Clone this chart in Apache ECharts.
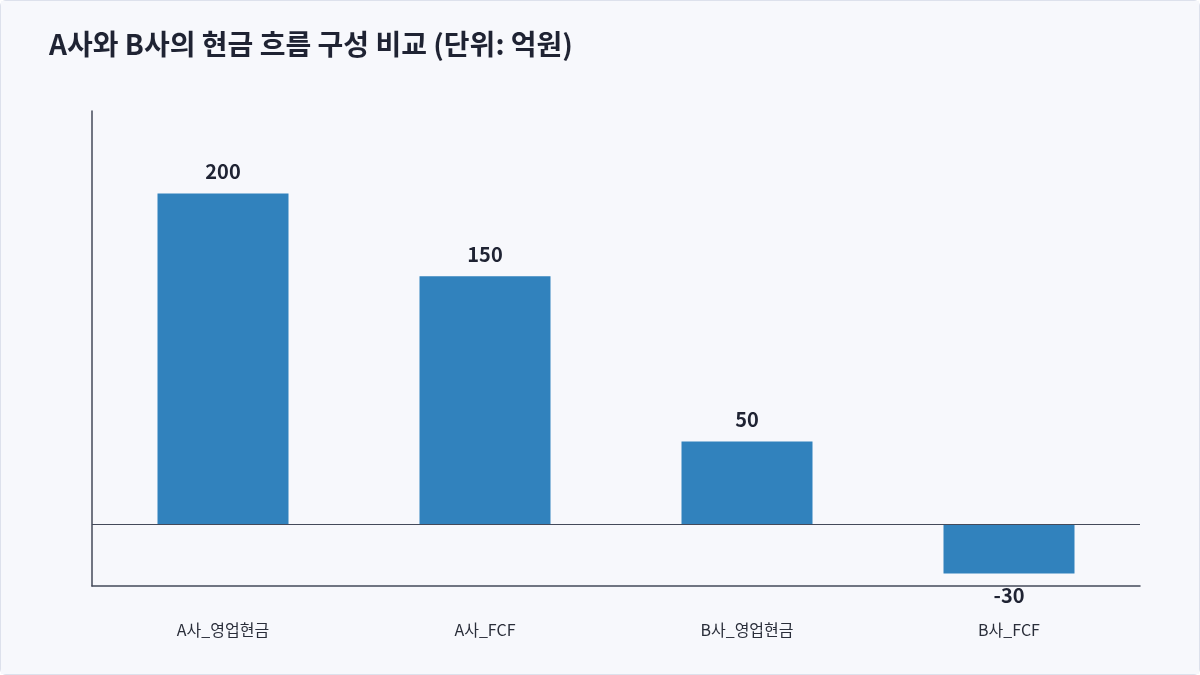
<!DOCTYPE html>
<html><head><meta charset="utf-8">
<script src="https://cdn.jsdelivr.net/npm/echarts@6/dist/echarts.min.js"></script>
<style>html,body{margin:0;padding:0;background:#fff}#c{width:1198px;height:673px;border:1px solid #dde1ec;border-radius:6px;background:#f7f8fc}</style>
</head><body><div id="c"></div>
<script>
const categories = ['A사_영업현금','A사_FCF','B사_영업현금','B사_FCF'];
const values = [200,150,50,-30];
const chart = echarts.init(document.getElementById('c'));
const F = '"Noto Sans CJK KR","Noto Sans",sans-serif';
chart.setOption({
  backgroundColor:'#f7f8fc',
  title:{text:'A사와 B사의 현금 흐름 구성 비교 (단위: 억원)',left:43,top:24,textStyle:{fontFamily:F,fontSize:28,fontWeight:'bold',color:'#1f2333'}},
  grid:{left:91,right:59,top:110,bottom:88},
  xAxis:{type:'category',data:categories,axisLine:{onZero:false,lineStyle:{color:'#444a5a',width:1.5}},axisTick:{show:false},
    axisLabel:{fontFamily:F,fontSize:16,color:'#2a2e3a',margin:36}},
  yAxis:{type:'value',min:-37.5,max:250,splitLine:{show:false},axisLabel:{show:false},axisTick:{show:false},
    axisLine:{show:true,lineStyle:{color:'#444a5a',width:1.5}}},
  series:[{type:'bar',data:values.map(v=>({value:v,label:{position:v<0?'bottom':'top'}})),barWidth:'50%',
    itemStyle:{color:'#3182bd'},
    label:{show:true,distance:12,fontFamily:F,fontSize:20,fontWeight:'bold',color:'#1f2333'},
    markLine:{silent:true,symbol:'none',label:{show:false},lineStyle:{color:'#444a5a',type:'solid',width:1},data:[{yAxis:0}]}}]
});
</script></body></html>
